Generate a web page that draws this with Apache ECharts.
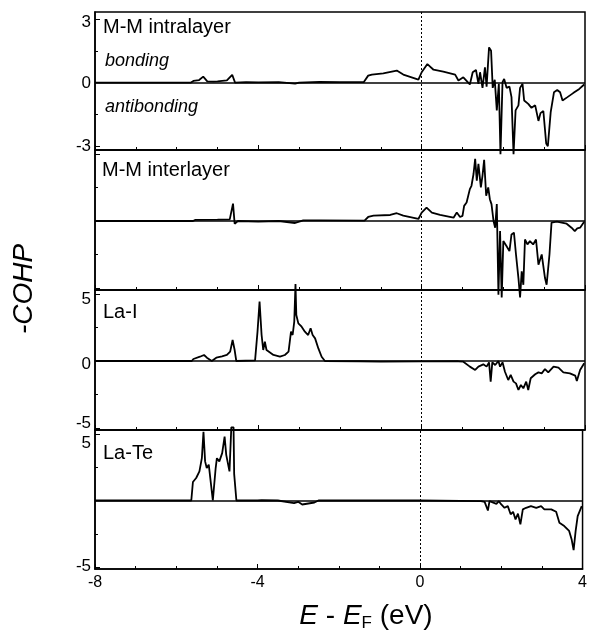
<!DOCTYPE html>
<html><head><meta charset="utf-8">
<script src="https://cdn.jsdelivr.net/npm/echarts@6/dist/echarts.min.js"></script>
<style>html,body{margin:0;padding:0;background:#fff}#c{width:590px;height:635px}</style>
</head><body><div id="c"></div>
<script>
// x axis
const xMin = -8, xMax = 4, xInterval = 4;
const panelNames = ['M-M intralayer', 'M-M interlayer', 'La-I', 'La-Te'];
// y ranges per panel
const yMins = [-3.2, -5.15, -5.15, -5.15];
const yMaxs = [3.35, 5.3, 5.3, 5.3];
const yMajorTicks = [[-3, 0, 3], [-5, 0, 5], [-5, 0, 5], [-5, 0, 5]];
const yMinorTicks = [[-1.5, 1.5], [-2.5, 2.5], [-2.5, 2.5], [-2.5, 2.5]];
const yTickLabels = [[-3, 0, 3], [], [-5, 0, 5], [-5, 5]];

// -COHP curves, [E - EF, -COHP]
const mmIntra = [[-8,0],[-5.65,0],[-5.59,0.08],[-5.45,0.12],[-5.35,0.28],[-5.25,0.06],[-5.1,0.05],[-5.0,0.06],[-4.77,0.1],[-4.64,0.37],[-4.57,0.0],[-4.3,0.02],[-4.0,0.01],[-3.5,0.02],[-3.1,-0.05],[-3.0,0.0],[-2.5,0.03],[-2.0,0.02],[-1.42,0.02],[-1.31,0.33],[-1.22,0.38],[-0.94,0.44],[-0.61,0.57],[-0.45,0.38],[-0.08,0.14],[0.0,0.49],[0.14,0.88],[0.29,0.61],[0.53,0.52],[0.82,0.38],[0.9,0.1],[1.02,0.25],[1.18,-0.09],[1.25,0.49],[1.33,0.6],[1.39,-0.06],[1.43,0.49],[1.49,-0.25],[1.55,0.72],[1.59,-0.19],[1.65,1.67],[1.7,1.51],[1.74,-0.25],[1.79,0.13],[1.84,-1.32],[1.89,-0.06],[1.93,-3.4],[1.98,0.02],[2.02,0.17],[2.08,-0.25],[2.15,-0.19],[2.2,-0.69],[2.25,-3.4],[2.3,-1.32],[2.37,-1.08],[2.41,-0.25],[2.47,-0.06],[2.51,-0.85],[2.61,-1.01],[2.69,-1.2],[2.78,-1.08],[2.86,-1.82],[2.91,-1.45],[2.98,-1.35],[3.05,-2.89],[3.09,-3.02],[3.16,-1.4],[3.24,-0.46],[3.32,-0.35],[3.39,-0.46],[3.45,-0.85],[3.57,-0.69],[3.71,-0.5],[3.86,-0.3],[3.98,-0.09]];
const mmInter = [[-8,0],[-5.6,0],[-5.55,0.08],[-5.0,0.1],[-4.7,0.12],[-4.62,1.3],[-4.58,-0.2],[-4.5,0],[-4.0,-0.05],[-3.5,0],[-3.1,-0.15],[-3.0,-0.05],[-2.9,0.05],[-2.5,0.05],[-1.4,0.03],[-1.31,0.3],[-1.18,0.4],[-0.77,0.45],[-0.61,0.58],[-0.45,0.4],[-0.08,0.15],[0.0,0.63],[0.12,1.0],[0.25,0.63],[0.45,0.45],[0.78,0.25],[0.86,0.63],[0.94,0.3],[1.0,0.38],[1.04,1.13],[1.1,1.38],[1.18,2.38],[1.22,2.63],[1.27,3.51],[1.31,4.64],[1.35,3.01],[1.39,4.26],[1.45,2.51],[1.49,3.39],[1.53,4.56],[1.58,1.88],[1.63,2.51],[1.67,1.63],[1.71,1.26],[1.76,0],[1.8,-0.5],[1.84,1.26],[1.88,-5.51],[1.92,-0.75],[1.96,-5.7],[2.0,-1.5],[2.08,-1.88],[2.15,-2.25],[2.2,-1.0],[2.26,-0.87],[2.31,-2.5],[2.37,-4.26],[2.41,-5.7],[2.45,-3.76],[2.49,-4.76],[2.53,-1.38],[2.59,-1.75],[2.65,-1.5],[2.73,-1.75],[2.8,-1.38],[2.86,-3.26],[2.94,-2.5],[2.98,-2.38],[3.02,-4.26],[3.06,-4.76],[3.13,-2.5],[3.18,-0.12],[3.31,-0.05],[3.55,-0.2],[3.67,-0.5],[3.75,-0.75],[3.81,-0.55],[3.88,-0.5],[3.98,-0.05]];
const laI = [[-8,0],[-5.63,0],[-5.59,0.15],[-5.43,0.32],[-5.33,0.45],[-5.26,0.25],[-5.14,0],[-5.03,0.25],[-4.89,0.35],[-4.77,0.45],[-4.69,0.7],[-4.63,1.57],[-4.58,0.82],[-4.54,0],[-4.08,0.05],[-4.02,2.19],[-3.97,4.43],[-3.92,1.94],[-3.88,0.82],[-3.84,1.44],[-3.8,0.82],[-3.63,0.45],[-3.47,0.32],[-3.35,0.45],[-3.26,0.7],[-3.2,2.19],[-3.16,1.94],[-3.12,2.94],[-3.09,5.75],[-3.07,3.43],[-3.02,2.81],[-2.94,2.56],[-2.86,2.19],[-2.78,1.94],[-2.72,2.44],[-2.67,1.94],[-2.61,1.69],[-2.53,0.94],[-2.45,0.32],[-2.37,0],[-1.5,-0.02],[-1.0,-0.05],[0,-0.03],[0.9,-0.02],[1.02,-0.05],[1.18,-0.42],[1.31,-0.67],[1.39,-0.42],[1.51,-0.25],[1.59,-0.42],[1.65,-0.1],[1.69,-1.54],[1.73,-0.1],[1.8,-0.3],[1.88,0.0],[1.92,-0.42],[1.98,-0.1],[2.04,-0.8],[2.12,-1.42],[2.18,-1.04],[2.25,-1.54],[2.31,-1.67],[2.37,-2.16],[2.43,-1.79],[2.49,-2.04],[2.56,-1.54],[2.61,-2.16],[2.67,-1.29],[2.78,-0.99],[2.86,-0.85],[2.94,-0.92],[3.02,-0.6],[3.1,-0.85],[3.23,-0.42],[3.35,-0.5],[3.47,-0.85],[3.63,-0.92],[3.76,-1.09],[3.8,-1.49],[3.88,-0.67],[3.98,-0.17]];
const laTe = [[-8,0],[-5.63,0],[-5.59,1.39],[-5.51,1.69],[-5.43,2.19],[-5.37,3.18],[-5.33,5.17],[-5.29,2.94],[-5.25,2.44],[-5.2,2.69],[-5.1,0],[-5.03,2.44],[-5.0,3.18],[-4.94,2.94],[-4.87,3.56],[-4.81,4.8],[-4.77,3.43],[-4.69,2.19],[-4.645,5.5],[-4.59,5.5],[-4.575,2.0],[-4.52,0],[-4.0,0],[-3.98,0.15],[-3.9,0.02],[-3.5,0],[-3.1,-0.2],[-3.0,-0.1],[-2.9,-0.3],[-2.6,-0.15],[-2.5,0],[-1.0,0],[0,0],[1.5,-0.05],[1.59,-0.1],[1.67,-0.75],[1.71,-0.05],[1.88,-0.25],[1.94,-0.05],[2.0,-0.3],[2.08,-0.55],[2.16,-0.42],[2.23,-1.04],[2.29,-0.85],[2.35,-1.42],[2.41,-0.99],[2.47,-1.79],[2.53,-0.67],[2.61,-0.55],[2.73,-0.42],[2.86,-0.55],[2.98,-0.42],[3.06,-0.67],[3.23,-0.67],[3.35,-0.85],[3.43,-1.67],[3.55,-1.92],[3.67,-2.29],[3.73,-2.91],[3.78,-3.73],[3.83,-2.29],[3.88,-1.17],[3.98,-0.42]];
const curves = [mmIntra, mmInter, laI, laTe];

const FONT = '"Liberation Sans", Arial, Helvetica, sans-serif';
const gridTops = [12, 150, 290, 430];
const gridHeights = [138, 140, 140, 139];
// per-label vertical nudge (px, + = down), styling only
const labelNudge = [{'3': 3, '0': 1, '-3': 1}, {}, {'5': 5, '0': 3, '-5': -5}, {'5': 9, '-5': -1}];

function richFor(i) {
  const rich = {};
  Object.keys(labelNudge[i]).forEach((k, j) => {
    const d = labelNudge[i][k];
    rich['n' + j] = {fontSize: 17, fontFamily: FONT, color: '#000',
      padding: d >= 0 ? [2 * d, 0, 0, 0] : [0, 0, -2 * d, 0]};
  });
  return rich;
}
function fmtFor(i) {
  const keys = Object.keys(labelNudge[i]);
  return v => {
    const s = String(Math.round(v * 100) / 100);
    const j = keys.indexOf(s);
    return j >= 0 ? '{n' + j + '|' + s + '}' : s;
  };
}

const grids = [], xAxes = [], yAxes = [], series = [];
for (let i = 0; i < 4; i++) {
  grids.push({left: 95, right: 5, top: gridTops[i], height: gridHeights[i], show: true,
    borderColor: '#000', borderWidth: 1.5, backgroundColor: 'transparent'});
  xAxes.push({type: 'value', gridIndex: i, min: xMin, max: xMax, interval: xInterval,
    axisLine: {show: true, onZero: false, lineStyle: {color: '#000', width: 1.5}},
    axisTick: {show: true, inside: true, length: 5, lineStyle: {color: '#000', width: 1}},
    minorTick: {show: true, splitNumber: 4, length: 3, lineStyle: {color: '#000', width: 1}},
    axisLabel: {show: i === 3, color: '#000', fontSize: 16, fontFamily: FONT, margin: 6},
    splitLine: {show: false}});
  yAxes.push({type: 'value', gridIndex: i, min: yMins[i], max: yMaxs[i], position: 'left',
    axisLine: {show: true, onZero: false, lineStyle: {color: '#000', width: 1.5}},
    axisTick: {show: true, inside: true, length: 5, customValues: yMajorTicks[i], lineStyle: {color: '#000', width: 1}},
    axisLabel: {show: yTickLabels[i].length > 0, customValues: yTickLabels[i], color: '#000', fontSize: 17,
      fontFamily: FONT, margin: 4, formatter: fmtFor(i), rich: richFor(i)},
    splitLine: {show: false}});
  yAxes.push({type: 'value', gridIndex: i, min: yMins[i], max: yMaxs[i], position: 'left',
    axisLine: {show: false, onZero: false},
    axisTick: {show: true, inside: true, length: 3, customValues: yMinorTicks[i], lineStyle: {color: '#000', width: 1}},
    axisLabel: {show: false}, splitLine: {show: false}});
  series.push({type: 'line', name: panelNames[i], xAxisIndex: i, yAxisIndex: 2 * i, data: curves[i],
    showSymbol: false, symbol: 'none', clip: false, animation: false,
    lineStyle: {color: '#000', width: 1.8},
    markLine: {silent: true, symbol: 'none', animation: false, label: {show: false},
      data: [
        {yAxis: 0, lineStyle: {type: 'solid', color: '#000', width: 1.5}},
        {xAxis: 0, lineStyle: {type: [2, 2], color: '#000', width: 1}}
      ]}});
}

const labelTexts = [
  {text: panelNames[0], x: 103, y: 27, font: '20px ' + FONT},
  {text: 'bonding', x: 105, y: 61, font: 'italic 18px ' + FONT},
  {text: 'antibonding', x: 105, y: 107, font: 'italic 18px ' + FONT},
  {text: panelNames[1], x: 102, y: 170, font: '20px ' + FONT},
  {text: panelNames[2], x: 103, y: 312, font: '20px ' + FONT},
  {text: panelNames[3], x: 103, y: 453, font: '20px ' + FONT}
];
const graphics = labelTexts.map(t => ({type: 'text', x: t.x, y: t.y, z: 100,
  style: {text: t.text, font: t.font, fill: '#000', align: 'left', verticalAlign: 'middle'}}));
graphics.push({type: 'text', x: 24, y: 289, rotation: Math.PI / 2, z: 100,
  style: {text: '-COHP', font: 'italic 28px ' + FONT, fill: '#000', align: 'center', verticalAlign: 'middle'}});
graphics.push({type: 'text', x: 366, y: 616, z: 100,
  style: {text: '{i|E} - {i|E}{s|F} (eV)', fill: '#000', align: 'center', verticalAlign: 'middle',
    font: '28px ' + FONT,
    rich: {i: {fontStyle: 'italic', fontSize: 28, fontFamily: FONT},
           s: {fontSize: 17, fontFamily: FONT, padding: [14, 0, 0, 0]}}}});

const chart = echarts.init(document.getElementById('c'), null, {renderer: 'canvas'});
chart.setOption({animation: false, backgroundColor: '#fff', grid: grids, xAxis: xAxes, yAxis: yAxes,
  series: series, graphic: graphics});
</script></body></html>
